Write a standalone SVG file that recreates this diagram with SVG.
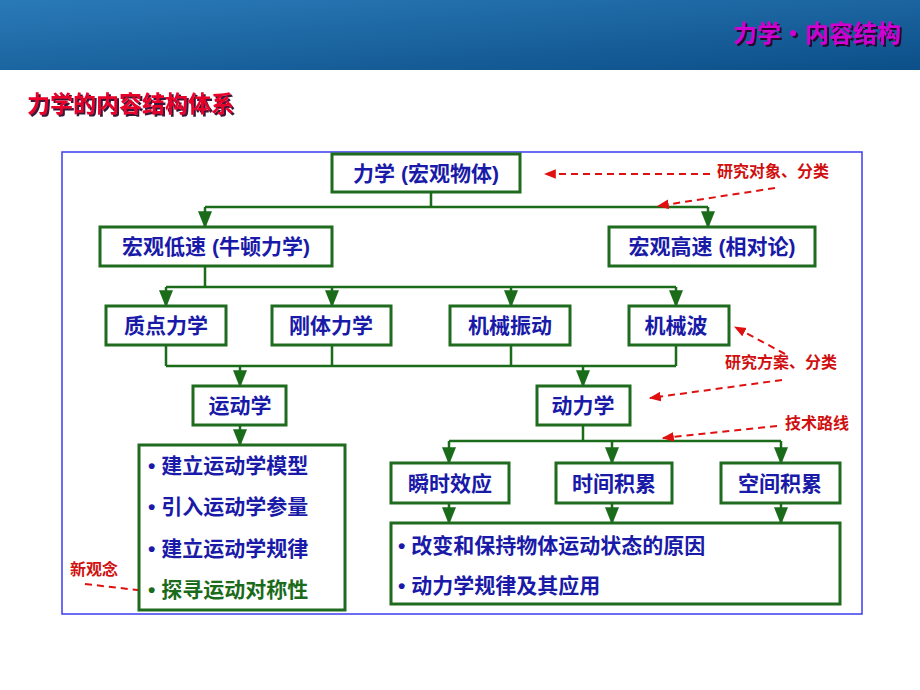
<svg xmlns="http://www.w3.org/2000/svg" width="920" height="690" viewBox="0 0 920 690">
<defs>
<linearGradient id="hdr" x1="0" y1="0" x2="1" y2="1"><stop offset="0" stop-color="#2a7ab8"/><stop offset="1" stop-color="#0c4f88"/></linearGradient>
<filter id="sh" x="-5%" y="-20%" width="115%" height="150%"><feDropShadow dx="2" dy="2" stdDeviation="0.5" flood-color="#200020" flood-opacity="0.9"/></filter>
<marker id="ga" viewBox="0 0 10 10" refX="9" refY="5" markerWidth="7" markerHeight="7" orient="auto"><path d="M0,1 L10,5 L0,9 z" fill="#1a6b1a"/></marker>
<marker id="ra" viewBox="0 0 10 10" refX="9" refY="5" markerWidth="6" markerHeight="6" orient="auto"><path d="M0,1 L10,5 L0,9 z" fill="#e01010"/></marker>
</defs>
<style>
.box{fill:#fff;stroke:#1f6b1f;stroke-width:3}
.t{font-family:"Liberation Sans","Noto Sans CJK SC",sans-serif;font-weight:bold;fill:#1a1aa8;font-size:21px}
.c{fill:none;stroke:#1a6b1a;stroke-width:2.5}
.r{fill:none;stroke:#e01010;stroke-width:2;stroke-dasharray:7,5}
.rt{font-family:"Noto Sans CJK SC",sans-serif;font-weight:bold;fill:#d01010;font-size:16px}
</style>
<rect width="920" height="690" fill="#fff"/>
<rect width="920" height="70" fill="url(#hdr)"/>
<text x="901" y="42" text-anchor="end" font-family="Noto Sans CJK SC,sans-serif" font-weight="bold" font-size="24" fill="#d000d0" filter="url(#sh)">力学·内容结构</text>
<text x="27" y="112" font-family="Noto Sans CJK SC,sans-serif" font-weight="bold" font-size="23" fill="#e8002a" filter="url(#sh)">力学的内容结构体系</text>
<rect x="62" y="152" width="800" height="462" fill="none" stroke="#3b3bf0" stroke-width="1.5"/>
<g id="connectors">
<path class="c" d="M431,192 V207 M205,207 H708"/>
<path class="c" d="M205,207 V227" marker-end="url(#ga)"/><path class="c" d="M708,207 V227" marker-end="url(#ga)"/>
<path class="c" d="M205,266 V287 M166,287 H676"/>
<path class="c" d="M166,287 V306" marker-end="url(#ga)"/><path class="c" d="M332,287 V306" marker-end="url(#ga)"/>
<path class="c" d="M511,287 V306" marker-end="url(#ga)"/><path class="c" d="M676,287 V306" marker-end="url(#ga)"/>
<path class="c" d="M166,345 V366 M332,345 V366 M511,345 V366 M676,345 V366 M166,366 H676"/>
<path class="c" d="M240,366 V386" marker-end="url(#ga)"/><path class="c" d="M583,366 V386" marker-end="url(#ga)"/>
<path class="c" d="M240,425 V445" marker-end="url(#ga)"/>
<path class="c" d="M583,425 V441 M449,441 H781"/>
<path class="c" d="M449,441 V463" marker-end="url(#ga)"/><path class="c" d="M612,441 V463" marker-end="url(#ga)"/><path class="c" d="M781,441 V463" marker-end="url(#ga)"/>
<path class="c" d="M449,503 V523" marker-end="url(#ga)"/><path class="c" d="M612,503 V523" marker-end="url(#ga)"/><path class="c" d="M781,503 V523" marker-end="url(#ga)"/>
<path class="r" d="M710,174 H545" marker-end="url(#ra)"/>
<path class="r" d="M775,188 L658,206" marker-end="url(#ra)"/>
<path class="r" d="M785,354 L735,327" marker-end="url(#ra)"/>
<path class="r" d="M782,380 L650,398" marker-end="url(#ra)"/>
<path class="r" d="M777,426 L663,438" marker-end="url(#ra)"/>
<path class="r" d="M85,584 L155,592" marker-end="url(#ra)"/>
</g>
<g id="n1"><rect class="box" x="332" y="154" width="188" height="38"/><text class="t" x="426" y="181" text-anchor="middle">力学 (宏观物体)</text></g>
<g id="n2"><rect class="box" x="100" y="227" width="232" height="39"/><text class="t" x="216" y="254" text-anchor="middle">宏观低速 (牛顿力学)</text></g>
<g id="n3"><rect class="box" x="609" y="227" width="206" height="39"/><text class="t" x="712" y="254" text-anchor="middle">宏观高速 (相对论)</text></g>
<g id="n4"><rect class="box" x="106" y="306" width="120" height="39"/><text class="t" x="166" y="333" text-anchor="middle">质点力学</text></g>
<g id="n5"><rect class="box" x="272" y="306" width="119" height="39"/><text class="t" x="331" y="333" text-anchor="middle">刚体力学</text></g>
<g id="n6"><rect class="box" x="450" y="306" width="120" height="39"/><text class="t" x="510" y="333" text-anchor="middle">机械振动</text></g>
<g id="n7"><rect class="box" x="629" y="306" width="100" height="39"/><text class="t" x="676" y="333" text-anchor="middle">机械波</text></g>
<g id="n8"><rect class="box" x="193" y="386" width="93" height="39"/><text class="t" x="240" y="413" text-anchor="middle">运动学</text></g>
<g id="n9"><rect class="box" x="537" y="386" width="93" height="39"/><text class="t" x="583" y="413" text-anchor="middle">动力学</text></g>
<g id="n10"><rect class="box" x="139" y="445" width="206" height="165"/>
<text class="t" x="148" y="473">• 建立运动学模型</text><text class="t" x="148" y="514">• 引入运动学参量</text><text class="t" x="148" y="556">• 建立运动学规律</text><text class="t" x="148" y="597" style="fill:#1a6b1a">• 探寻运动对称性</text></g>
<g id="n11"><rect class="box" x="391" y="463" width="118" height="40"/><text class="t" x="450" y="491" text-anchor="middle">瞬时效应</text></g>
<g id="n12"><rect class="box" x="556" y="463" width="116" height="40"/><text class="t" x="614" y="491" text-anchor="middle">时间积累</text></g>
<g id="n13"><rect class="box" x="721" y="463" width="119" height="40"/><text class="t" x="780" y="491" text-anchor="middle">空间积累</text></g>
<g id="n14"><rect class="box" x="391" y="523" width="449" height="81"/>
<text class="t" x="398" y="553">• 改变和保持物体运动状态的原因</text><text class="t" x="398" y="593">• 动力学规律及其应用</text></g>
<g id="labels">
<text class="rt" x="717" y="177">研究对象、分类</text>
<text class="rt" x="725" y="368">研究方案、分类</text>
<text class="rt" x="785" y="429">技术路线</text>
<text class="rt" x="70" y="575">新观念</text>
</g>
</svg>
